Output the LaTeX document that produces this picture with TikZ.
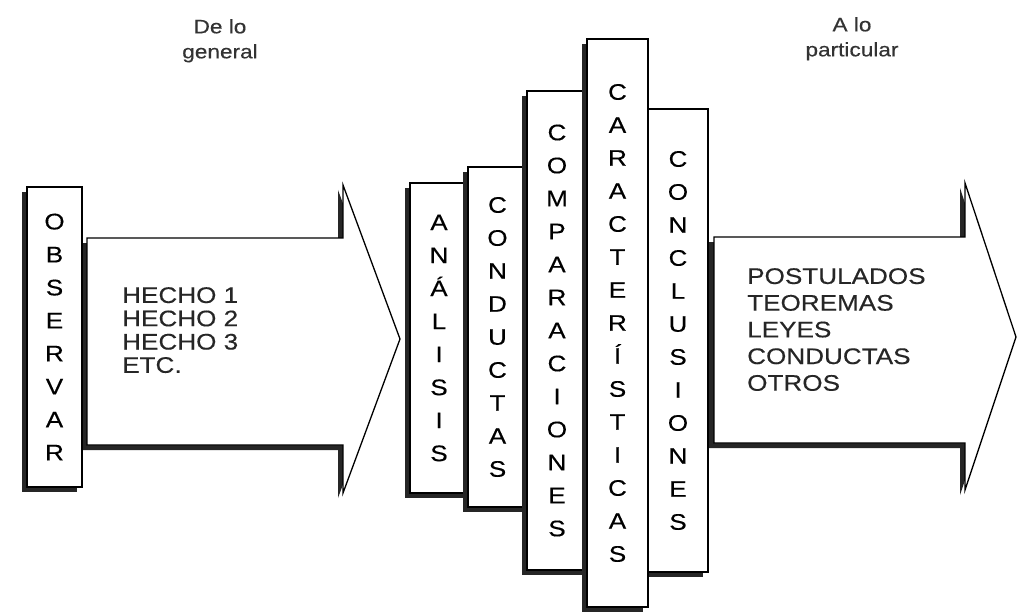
\documentclass[tikz,border=0pt]{standalone}
\usepackage{fontspec}
\setmainfont{Liberation Sans}
\newfontfamily\labelfont[FakeStretch=1.16, FakeBold=0.3]{Liberation Sans}
\usetikzlibrary{shadows}

\begin{document}
\begin{tikzpicture}[x=1pt, y=-1pt,
    outline/.style={draw=black, line width=1.3pt, fill=white},
    shadowed/.style={drop shadow={shadow xshift=-5pt, shadow yshift=-5pt, fill=black!85, opacity=1}},
    letterbox/.style={outline, shadowed, line width=1.6pt, rectangle, inner sep=0pt, align=center,
        font=\labelfont\fontsize{22.5}{33}\selectfont},
    listtext/.style={align=left, anchor=north west, inner sep=0pt, text=black!85},
    title/.style={align=center, anchor=north, inner sep=0pt, text=black!80,
        font=\labelfont\fontsize{19.5}{25}\selectfont}]
    \useasboundingbox (0,0) rectangle (1018,615);

    % Titles
    \node[title] (general) at (220,19) {De lo\\general};
    \node[title] (particular) at (852,17) {A lo\\particular};

    % Left arrow
    \draw[outline, shadowed] (87,238) -- (343,238) -- (343,185) -- (400,339)
        -- (343,493) -- (343,445) -- (87,445) -- cycle;
    \node[letterbox, minimum width=55pt, minimum height=300pt] (observar) at (54.5,337)
        {O\\B\\S\\E\\R\\V\\A\\R};
    \node[listtext, font=\labelfont\fontsize{22.5}{23.3}\selectfont] (hechos) at (122,287)
        {HECHO 1\\HECHO 2\\HECHO 3\\ETC.};

    % Right arrow
    \draw[outline, shadowed] (714,237) -- (965,237) -- (965,183) -- (1016,337)
        -- (965,490) -- (965,443) -- (714,443) -- cycle;
    \node[listtext, font=\labelfont\fontsize{22.5}{26.7}\selectfont] (leyes) at (747,268)
        {POSTULADOS\\TEOREMAS\\LEYES\\CONDUCTAS\\OTROS};

    % Middle boxes
    \node[letterbox, minimum width=58pt, minimum height=310pt] (analisis) at (439,338)
        {A\\N\\Á\\L\\I\\S\\I\\S};
    \node[letterbox, minimum width=59pt, minimum height=340pt] (conductas) at (497.5,337)
        {C\\O\\N\\D\\U\\C\\T\\A\\S};
    \node[letterbox, minimum width=60pt, minimum height=479pt] (comparaciones) at (557,330.5)
        {C\\O\\M\\P\\A\\R\\A\\C\\I\\O\\N\\E\\S};
    \node[letterbox, minimum width=60pt, minimum height=463pt] (conclusiones) at (678,340.5)
        {C\\O\\N\\C\\L\\U\\S\\I\\O\\N\\E\\S};
    \node[letterbox, minimum width=61pt, minimum height=568pt] (caracteristicas) at (617.5,323)
        {C\\A\\R\\A\\C\\T\\E\\R\\Í\\S\\T\\I\\C\\A\\S};
\end{tikzpicture}
\end{document}
